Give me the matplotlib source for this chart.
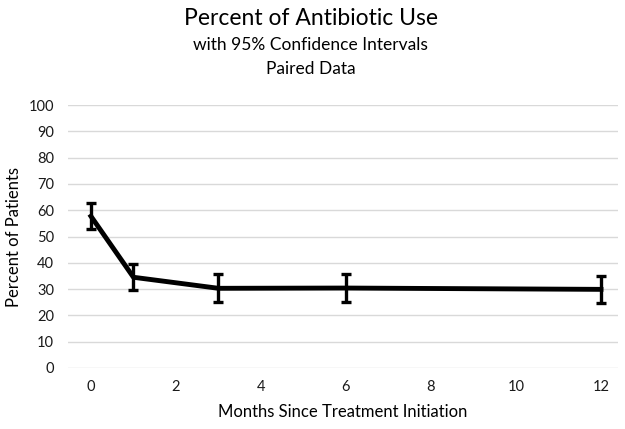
import matplotlib
matplotlib.use("Agg")
import matplotlib.pyplot as plt

# months since treatment initiation
months = [0, 1, 3, 6, 12]
# percent of patients on antibiotics, with 95% CI half widths
percent = [57.7, 34.5, 30.3, 30.4, 29.9]
ci_half = [5.0, 5.0, 5.3, 5.2, 5.0]

x_ticks = [0, 2, 4, 6, 8, 10, 12]
y_ticks = list(range(0, 101, 10))

plt.rcParams['font.family'] = ['Lato', 'DejaVu Sans']

fig = plt.figure(figsize=(6.25, 4.29), dpi=100)
ax = fig.add_axes([0.1088, 0.1422, 0.88, 0.613])

ax.errorbar(months, percent, yerr=ci_half, color='black', lw=3.5,
            elinewidth=2.4, capsize=3.8, capthick=2.4, zorder=3)

ax.set_xlim(-0.54, 12.4)
ax.set_ylim(0, 100)
ax.set_xticks(x_ticks)
ax.set_yticks(y_ticks)
ax.grid(axis='y', color='#d9d9d9', lw=1)
ax.set_axisbelow(True)
for s in ax.spines.values():
    s.set_visible(False)
ax.tick_params(length=0, labelsize=10.5, colors='#1a1a1a')
ax.tick_params(axis='x', pad=9)
ax.tick_params(axis='y', pad=10)

ax.set_xlabel('Months Since Treatment Initiation', fontsize=12, labelpad=7)
ax.set_ylabel('Percent of Patients', fontsize=12, labelpad=5)

fig.text(0.497, 0.957, 'Percent of Antibiotic Use', ha='center', va='center', fontsize=16.5)
fig.text(0.497, 0.895, 'with 95% Confidence Intervals', ha='center', va='center', fontsize=12.5)
fig.text(0.497, 0.839, 'Paired Data', ha='center', va='center', fontsize=12.5)

fig.savefig('out.png', dpi=100)
